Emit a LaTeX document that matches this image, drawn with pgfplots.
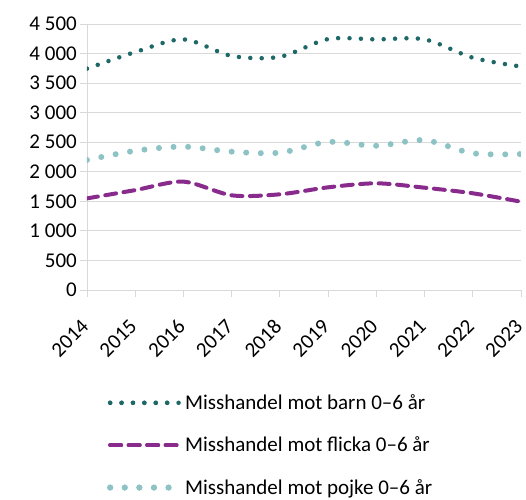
\documentclass[border=0pt]{standalone}
\usepackage{pgfplots}
\pgfplotsset{compat=1.18}
\usepackage{fontspec}
\setmainfont{Carlito}
\definecolor{barn}{HTML}{1F6868}
\definecolor{flicka}{HTML}{882B8C}
\definecolor{pojke}{HTML}{8EC3C5}
\definecolor{gridc}{HTML}{D9D9D9}
\begin{document}
\begin{tikzpicture}
\begin{axis}[
  scale only axis, width=434pt, height=266pt,
  xmin=2014, xmax=2023, ymin=0, ymax=4500,
  axis lines*=left,
  axis line style={draw=gridc, line width=0.8pt},
  xtick={2014,...,2023},
  xticklabels={2014,2015,2016,2017,2018,2019,2020,2021,2022,2023},
  ytick={0,500,...,4500},
  ymajorgrids, grid style={draw=gridc, line width=0.8pt},
  tick align=outside, major tick length=7pt,
  tick style={draw=gridc, line width=0.8pt},
  font=\fontsize{21}{25}\selectfont,
  ticklabel style={font=\fontsize{21}{25}\selectfont, text=black},
  /pgf/number format/assume math mode=true,
  /pgf/number format/1000 sep={\ },
  x tick label style={xshift=-7pt, yshift=-21pt, rotate=45, anchor=north east, inner sep=0pt},
  y tick label style={inner sep=3pt},
  legend style={draw=none, fill=none, at={(0.046,-0.385)}, anchor=north west,
    font=\fontsize{21}{25}\selectfont, row sep=22pt, inner sep=0pt,
    nodes={inner sep=2pt}},
  legend cell align=left,
  legend image code/.code={\draw[#1] (0pt,0pt) -- (66pt,0pt); \path (0pt,0pt) -- (70pt,0pt);},
]
\addplot[barn, smooth, line width=4.5pt, line cap=round, dash pattern=on 0pt off 11.4pt]
  coordinates {(2014,3745) (2015,4025) (2016,4240) (2017,3960) (2018,3945) (2019,4245) (2020,4240) (2021,4240) (2022,3930) (2023,3780)};
\addlegendentry{Misshandel mot barn 0–6 år}
\addplot[flicka, smooth, line width=4pt, line cap=round, dash pattern=on 11pt off 7.5pt]
  coordinates {(2014,1550) (2015,1690) (2016,1833) (2017,1602) (2018,1619) (2019,1737) (2020,1805) (2021,1731) (2022,1636) (2023,1494)};
\addlegendentry{Misshandel mot flicka 0–6 år}
\addplot[pojke, smooth, line width=6pt, line cap=round, dash pattern=on 0pt off 14.6pt]
  coordinates {(2014,2200) (2015,2355) (2016,2425) (2017,2340) (2018,2323) (2019,2505) (2020,2440) (2021,2535) (2022,2313) (2023,2300)};
\addlegendentry{Misshandel mot pojke 0–6 år}
\end{axis}
\pgfresetboundingbox
\path (-87pt,-209pt) rectangle (439pt,290pt);
\end{tikzpicture}
\end{document}
